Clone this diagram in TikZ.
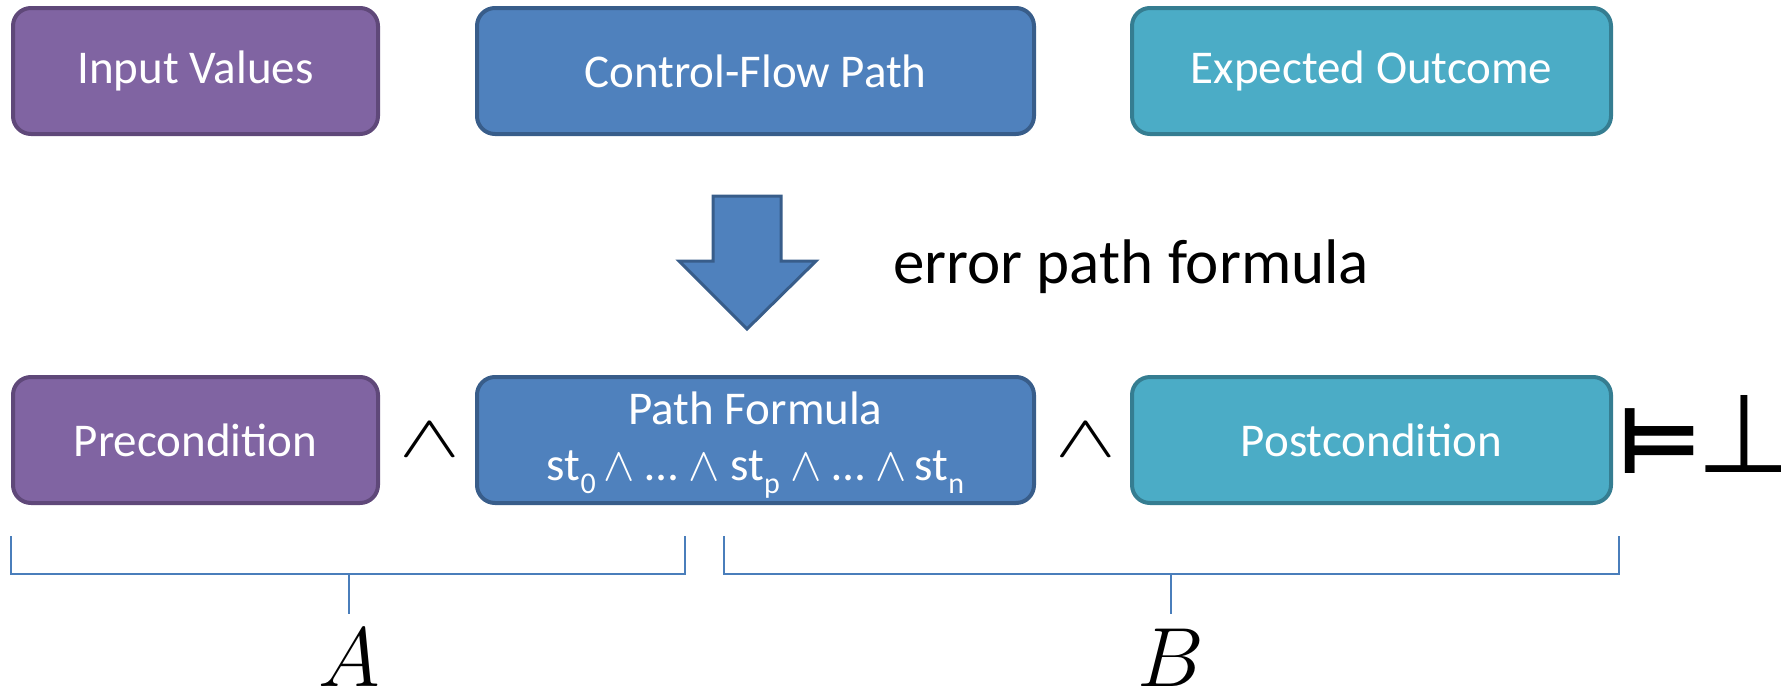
\RequirePackage{fix-cm}
\documentclass[tikz,border=0pt]{standalone}
\usepackage{graphicx}
\usepackage{fontspec}
\setmainfont{Carlito}
\newfontfamily\symfont{DejaVu Sans}
\definecolor{purpleF}{HTML}{8064A2}
\definecolor{purpleD}{HTML}{5F4879}
\definecolor{blueF}{HTML}{4F81BD}
\definecolor{blueD}{HTML}{385D8A}
\definecolor{aquaF}{HTML}{4BACC6}
\definecolor{aquaD}{HTML}{357D91}
\definecolor{brace}{HTML}{4A7EBB}
\newcommand\lowidx[1]{\raisebox{-0.28em}{\fontsize{30}{30}\selectfont #1}}
\newcommand\wideand{\scalebox{1.3}[0.85]{$\wedge$}}
\begin{document}
\begin{tikzpicture}[x=1pt,y=-1pt,
  box/.style={draw, line width=4pt, rounded corners=18pt, minimum height=126pt,
    text=white, font=\fontsize{47}{56}\selectfont, align=center, inner sep=0pt},
  purplebox/.style={box, fill=purpleF, draw=purpleD},
  bluebox/.style={box, fill=blueF, draw=blueD},
  aquabox/.style={box, fill=aquaF, draw=aquaD},
  boxtext/.style={text=white, font=\fontsize{47}{56}\selectfont, align=center, inner sep=0pt},
  opsym/.style={font=\fontsize{70}{70}\selectfont, inner sep=0pt},
  brk/.style={draw=brace, line width=2pt},
  setlabel/.style={font=\fontsize{84}{84}\selectfont, inner sep=0pt, anchor=base}]
\useasboundingbox (0,0) rectangle (1781,694);

% top row: what a test case provides
\node[purplebox, minimum width=365pt] (inp) at (195.5,71) {Input Values};
\node[bluebox, minimum width=557pt] (cfp) at (755.5,71) {Control-Flow Path};
\node[aquabox, minimum width=479pt] (exp) at (1371.5,71) {Expected Outcome};

% block arrow
\coordinate (atop) at (747,196);
\draw[fill=blueF, draw=blueD, line width=3pt, line join=miter]
  (atop) ++(-34,0) -- ++(68,0) -- ++(0,65) -- ++(35,0) -- ++(-69,68)
  -- ++(-68,-68) -- ++(34,0) -- cycle;
\node[anchor=base west, inner sep=0pt, font=\fontsize{63}{63}\selectfont] (epf) at (893,283) {error path formula};

% bottom row: the unsatisfiable conjunction
\node[purplebox, minimum width=365pt] (pre) at (195.5,440) {Precondition};
\node[bluebox, minimum width=557pt] (pf) at (755.5,440) {};
\node[boxtext] (pft) at ([yshift=-5pt]pf.center)
  {Path Formula\\
   st\lowidx{0}\,$\wedge$ … $\wedge$ st\lowidx{p} $\wedge$ … $\wedge$\,st\lowidx{n}};
\node[aquabox, minimum width=479pt] (post) at (1371.5,440) {Postcondition};
\node[opsym] (and1) at (430,440) {\wideand};
\node[opsym] (and2) at (1086,440) {\wideand};
\node[anchor=base, inner sep=0pt, font=\symfont\bfseries\fontsize{92}{92}\selectfont] (ent) at (1660,473) {⊨};
\node[anchor=base, inner sep=0pt, font=\symfont\fontsize{110}{110}\selectfont] (bot) at (1744,472) {⊥};

% braces grouping the interpolation parts
\coordinate (la) at (11,536);
\coordinate (lb) at (685,536);
\coordinate (ra) at (724,536);
\coordinate (rb) at (1619,536);
\draw[brk] (la) |- (lb |- 0,574) -- (lb);
\draw[brk] (ra) |- (rb |- 0,574) -- (rb);
\node[setlabel] (A) at (349,686) {$A$};
\node[setlabel] (B) at (1171,686) {$B$};
\draw[brk] (A |- 0,574) -- (A |- 0,614);
\draw[brk] (B |- 0,574) -- (B |- 0,614);
\end{tikzpicture}
\end{document}
